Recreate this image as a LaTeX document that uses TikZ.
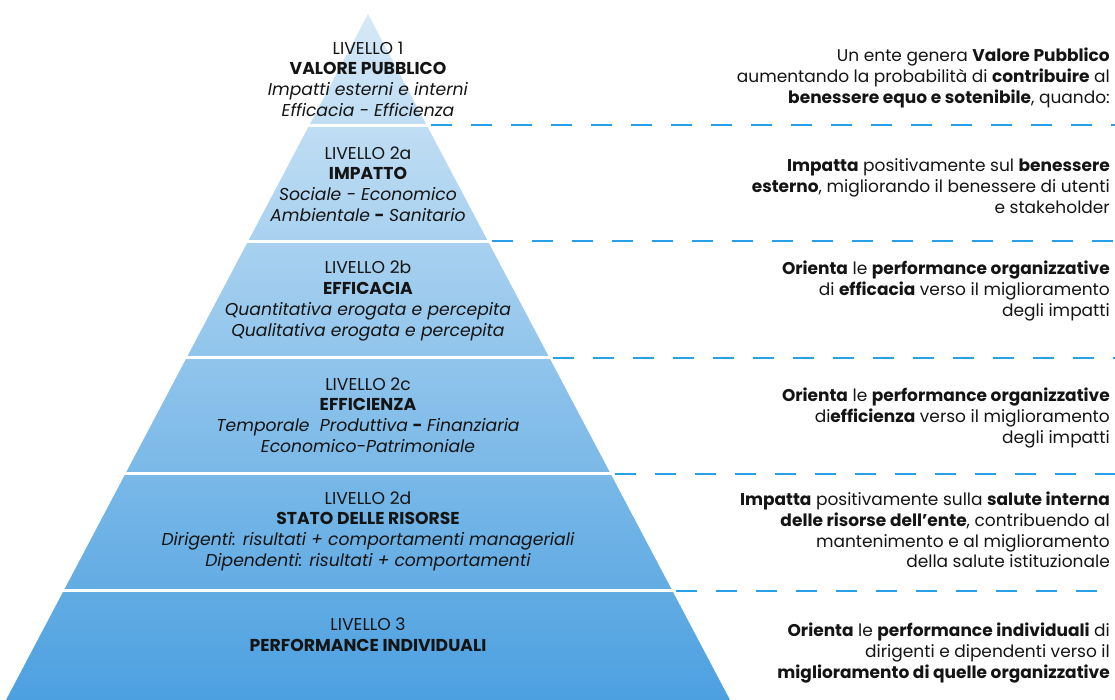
\documentclass[tikz,border=0pt]{standalone}
\usepackage{fontspec}
\setmainfont{Poppins}
\usetikzlibrary{positioning}
\definecolor{pyrtop}{RGB}{214,233,247}
\definecolor{pyrbot}{RGB}{76,160,224}
\definecolor{dashblue}{RGB}{40,160,232}
\definecolor{ink}{RGB}{20,20,20}

\begin{document}
\begin{tikzpicture}%
		[x=1pt, y=-1pt,
		every node/.style={text=ink, inner sep=0pt}
		]
		\tikzstyle{lvl}=[align=center, font=\fontsize{17.2}{20.7}\selectfont]
		\tikzstyle{note}=[align=right, anchor=east, font=\fontsize{17}{20.7}\selectfont]
		\tikzstyle{gap}=[white, line width=3pt]
		\tikzstyle{guide}=[color=dashblue, line width=2pt, dash pattern=on 21pt off 19pt]
		\useasboundingbox (0,0) rectangle (1115,700);
		
		% pyramid
		\coordinate (Apex) at (368,14);
		\coordinate (BaseL) at (6,700);
		\coordinate (BaseR) at (730,700);
		\shade[top color=pyrtop, bottom color=pyrbot] (Apex) -- (BaseL) -- (BaseR) -- cycle;
		
		% level borders and dashed guides
		\foreach \y/\n in {125.5/1, 241.5/2, 357.5/3, 473.5/4, 590.5/5} {
			\coordinate (GapL\n) at (0,\y);
			\coordinate (Edge\n) at ({368+0.528*(\y-14)+4},\y);
			\coordinate (End\n) at (1115,\y);
			\draw[gap] (GapL\n) -- (Edge\n);
			\draw[guide] (Edge\n) -- (End\n);
		}
		
		% levels
		\node[lvl] (Lv1) at (368,79) {LIVELLO 1\\\textbf{VALORE PUBBLICO}\\\textit{Impatti esterni e interni}\\\textit{Efficacia - Efficienza}};
		\node[lvl] (Lv2a) at (368,184) {LIVELLO 2a\\\textbf{IMPATTO}\\\textit{Sociale - Economico}\\\textit{Ambientale} \textbf{-} \textit{Sanitario}};
		\node[lvl] (Lv2b) at (368,301) {LIVELLO 2b\\\textbf{EFFICACIA}\\\textit{Quantitativa erogata e percepita}\\\textit{Qualitativa erogata e percepita}};
		\node[lvl] (Lv2c) at (368,415) {LIVELLO 2c\\\textbf{EFFICIENZA}\\\textit{Temporale\ \ Produttiva} \textbf{-} \textit{Finanziaria}\\\textit{Economico-Patrimoniale}};
		\node[lvl] (Lv2d) at (368,531) {LIVELLO 2d\\\textbf{STATO DELLE RISORSE}\\\textit{Dirigenti: risultati + comportamenti manageriali}\\\textit{Dipendenti: risultati + comportamenti}};
		\node[lvl] (Lv3) at (368,635) {LIVELLO 3\\\textbf{PERFORMANCE INDIVIDUALI}};
		
		% notes
		\node[note] (Note1) at (1110,78) {Un ente genera \textbf{Valore Pubblico}\\aumentando la probabilità di \textbf{contribuire} al\\\textbf{benessere equo e sotenibile}, quando:};
		\node[note] (Note2a) at (1110,186) {\textbf{Impatta} positivamente sul \textbf{benessere}\\\textbf{esterno}, migliorando il benessere di utenti\\e stakeholder};
		\node[note] (Note2b) at (1110,291) {\textbf{Orienta} le \textbf{performance organizzative}\\di \textbf{efficacia} verso il miglioramento\\degli impatti};
		\node[note] (Note2c) at (1110,418) {\textbf{Orienta} le \textbf{performance organizzative}\\di\textbf{efficienza} verso il miglioramento\\degli impatti};
		\node[note] (Note2d) at (1110,530) {\textbf{Impatta} positivamente sulla \textbf{salute interna}\\\textbf{delle risorse dell'ente}, contribuendo al\\mantenimento e al miglioramento\\della salute istituzionale};
		\node[note] (Note3) at (1110,653) {\textbf{Orienta} le \textbf{performance individuali} di\\dirigenti e dipendenti verso il\\\textbf{miglioramento di quelle organizzative}};
\end{tikzpicture}
\end{document}
